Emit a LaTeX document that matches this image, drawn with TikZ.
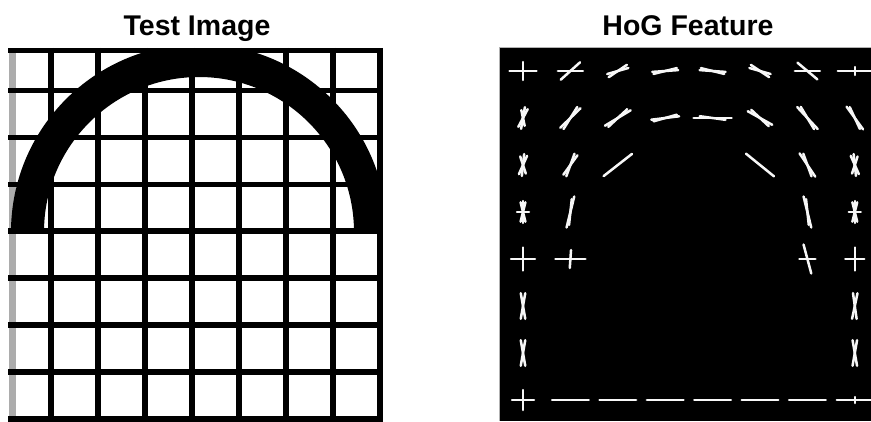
\documentclass[tikz,border=0pt]{standalone}
\usepackage{fontspec}
\setmainfont{Liberation Sans}
\begin{document}
\begin{tikzpicture}[x=1pt,y=-1pt,
  gridline/.style={black,line width=5.5pt},
  hogline/.style={gray!6,line width=2.5pt,line cap=round},
  paneltitle/.style={font=\fontsize{28.5}{30}\selectfont\bfseries,anchor=base}]
\useasboundingbox (0,0) rectangle (871,421);
\fill[white] (0,0) rectangle (871,421);
% --- titles ---
\node[paneltitle] (testtitle) at (197,35) {Test Image};
\node[paneltitle] (hogtitle) at (688,35) {HoG Feature};
% --- test image: stripe, arc, grid ---
\fill[gray!65] (9,50) rectangle (16,421);
\begin{scope}
  \clip (10,50) rectangle (382,232);
  \fill[black,even odd rule] (199,232) circle (188) (199,232) circle (155);
\end{scope}
\foreach \k in {0,...,7} \draw[gridline] ({51+47*\k},47.8) -- ({51+47*\k},423);
\draw[gridline] (8,50.5) -- (383,50.5);
\foreach \k in {0,...,7} \draw[gridline] (8,{90.5+46.9*\k}) -- (383,{90.5+46.9*\k});
% --- hog feature panel ---
\fill[black] (499,47) rectangle (871,421);
\draw[gray!60,line width=0.8pt] (499,421) -- (499,47) -- (871,47);
\foreach \c/\r/\a/\l in {
  0/0/0/13.5, 0/0/90/9, 1/0/0/12.5, 1/0/42/13, 2/0/16/11, 2/0/34/11,
  3/0/4/13, 3/0/14/12, 4/0/-4/13, 4/0/-14/12, 5/0/-16/11, 5/0/-34/11,
  6/0/0/12.5, 6/0/-40/13, 7/0/0/17, 7/0/90/4,
  0/1/62/10, 0/1/80/11, 0/1/102/8, 1/1/44/14, 1/1/58/13, 2/1/31/15, 2/1/43/13,
  3/1/7/14, 3/1/16/12, 4/1/0/19, 4/1/-8/13, 5/1/-29/14, 5/1/-43/12,
  6/1/-47/15, 6/1/-59/13, 7/1/-54/14, 7/1/-65/12,
  0/2/66/10, 0/2/84/11, 0/2/108/9, 1/2/54/12, 1/2/70/12, 2/2/38/18,
  5/2/-39/18, 6/2/-56/14, 6/2/-70/12, 7/2/-66/10, 7/2/-84/11, 7/2/72/9,
  0/3/90/11, 0/3/76/10, 0/3/104/10, 0/3/0/6, 1/3/76/16, 1/3/84/13,
  6/3/104/16, 6/3/96/13, 7/3/90/11, 7/3/76/10, 7/3/104/10, 7/3/0/6,
  0/4/0/12, 0/4/90/11.5, 1/4/0/15, 1/4/86/9, 6/4/105/15, 6/4/0/8,
  7/4/0/9.5, 7/4/90/11.5,
  0/5/80/13, 0/5/100/13, 7/5/78/13, 7/5/98/13,
  0/6/80/13, 0/6/100/13, 7/6/80/13, 7/6/100/13,
  0/7/0/11, 0/7/90/10, 1/7/0/18.3, 2/7/0/18.3, 3/7/0/18.3, 4/7/0/18.3,
  5/7/0/18.3, 6/7/0/18.3, 7/7/0/18, 7/7/90/3}
  \draw[hogline] ({523+47.4*\c},{71+47*\r}) ++({-(\a)}:\l) -- ++({180-(\a)}:{2*\l});
\end{tikzpicture}
\end{document}
